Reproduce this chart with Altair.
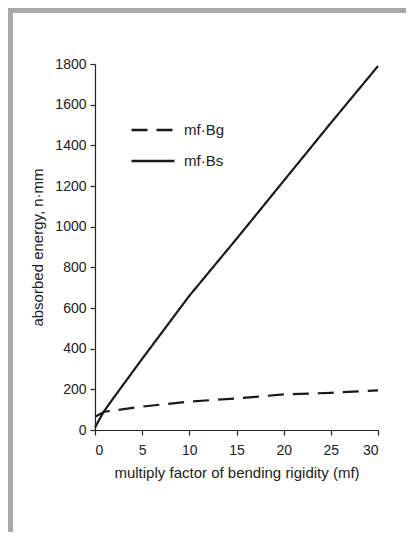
import altair as alt
import pandas as pd

mf_bs = [0, 0.5, 1, 2, 5, 10, 15, 20, 25, 30]
bs = [12, 55, 95, 160, 350, 660, 940, 1225, 1510, 1790]
mf_bg = [0, 1, 5, 10, 15, 20, 25, 30]
bg = [65, 90, 115, 140, 155, 175, 183, 195]

series = ["mf·Bg", "mf·Bs"]
x_ticks = [0, 5, 10, 15, 20, 25, 30]
y_ticks = [0, 200, 400, 600, 800, 1000, 1200, 1400, 1600, 1800]

df = pd.concat([
    pd.DataFrame({"mf": mf_bg, "energy": bg, "series": series[0]}),
    pd.DataFrame({"mf": mf_bs, "energy": bs, "series": series[1]}),
])

FONT = "Liberation Sans"
W, H = 283, 366
PL, PT = 87, 56

lines = alt.Chart(df).mark_line(color="#1a1a1a", strokeWidth=2.2).encode(
    x=alt.X("mf:Q", scale=alt.Scale(domain=[0, 30], nice=False),
            axis=alt.Axis(values=x_ticks, title="multiply factor of bending rigidity (mf)",
                          grid=False, tickSize=5, labelPadding=8, titlePadding=8,
                          format="d")),
    y=alt.Y("energy:Q", scale=alt.Scale(domain=[0, 1800], nice=False),
            axis=alt.Axis(values=y_ticks, title="absorbed energy, n·mm",
                          grid=False, tickSize=5, labelPadding=4, titlePadding=9,
                          format="d")),
    strokeDash=alt.StrokeDash("series:N",
        scale=alt.Scale(domain=series, range=[[16, 9], [1, 0]]),
        legend=alt.Legend(title=None, orient="none", legendX=35, legendY=43,
                          symbolType="stroke", symbolSize=1849, symbolStrokeWidth=2.5,
                          symbolStrokeColor="#1a1a1a", labelFontSize=15, labelFont=FONT,
                          labelColor="#222", rowPadding=-36, labelOffset=8)),
    order="mf:Q",
)

frame_left = alt.Chart(pd.DataFrame({"a": [0]})).mark_rect(color="#a9a9a9").encode(
    x=alt.value(-PL), x2=alt.value(-PL + 5), y=alt.value(-PT), y2=alt.value(524 - PT))
frame_top = alt.Chart(pd.DataFrame({"a": [0]})).mark_rect(color="#a9a9a9").encode(
    x=alt.value(-PL), x2=alt.value(398 - PL), y=alt.value(-PT), y2=alt.value(-PT + 5))

chart = alt.layer(frame_left, frame_top, lines).properties(
    width=W, height=H,
    autosize=alt.AutoSizeParams(type="none"),
    padding={"left": PL, "top": PT, "right": 398 - PL - W, "bottom": 524 - PT - H},
).configure_view(stroke=None).configure_axis(
    labelFont=FONT, titleFont=FONT, labelFontSize=14, titleFontSize=15,
    labelColor="#222", titleColor="#222", titleFontWeight="normal",
    domainColor="#222", tickColor="#222", domainWidth=1.2, tickWidth=1.2,
)

chart.save("out.html", embed_options={"renderer": "svg", "actions": False})
